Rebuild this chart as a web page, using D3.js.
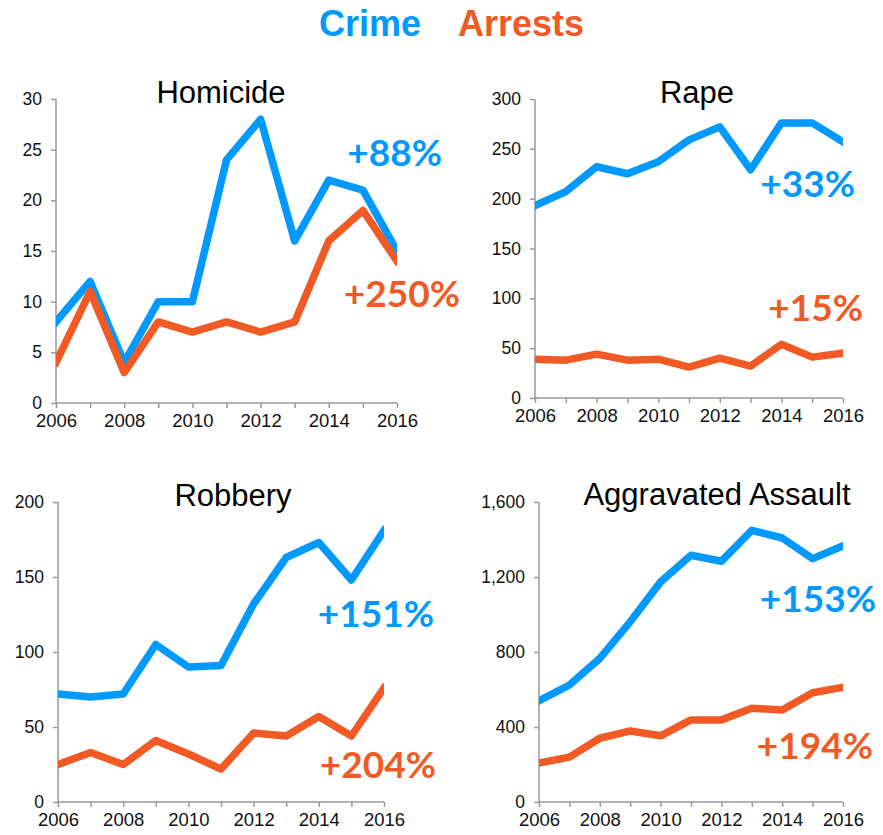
<!DOCTYPE html>
<html>
<head>
<meta charset="utf-8">
<script src="https://cdn.jsdelivr.net/npm/d3@7"></script>
<style>
  html, body { margin: 0; padding: 0; background: #fff; }
  svg { display: block; }
</style>
</head>
<body>
<svg id="chart" width="883" height="835"></svg>
<script>
// ---------- DATA ----------
const years = [2006, 2007, 2008, 2009, 2010, 2011, 2012, 2013, 2014, 2015, 2016];
const xTickLabels = [2006, 2008, 2010, 2012, 2014, 2016];

const homicideCrime   = [8, 12, 4, 10, 10, 24, 28, 16, 22, 21, 15];
const homicideArrests = [4, 11, 3, 8, 7, 8, 7, 8, 16, 19, 14];

const rapeCrime   = [193, 207, 232, 225, 237, 259, 272, 229, 276, 276, 257];
const rapeArrests = [39, 38, 44, 38, 39, 31, 40, 32, 54, 41, 45];

const robberyCrime   = [72, 70, 72, 105, 90, 91, 132, 163, 173, 148, 181];
const robberyArrests = [25, 33, 25, 41, 32, 22, 46, 44, 57, 44, 76];

const assaultCrime   = [540, 624, 766, 961, 1174, 1316, 1284, 1449, 1408, 1298, 1366];
const assaultArrests = [208, 239, 340, 379, 353, 438, 438, 500, 491, 583, 612];

const panelTitles = ["Homicide", "Rape", "Robbery", "Aggravated Assault"];
const yMax   = [30, 300, 200, 1600];
const yStep  = [5, 50, 50, 400];
const legendLabels = ["Crime", "Arrests"];

// ---------- STYLE / LAYOUT ----------
const BLUE = "#0099ff";
const ORANGE = "#f15a24";
const AXIS = "#9a9a9a";
const SANS = '"Liberation Sans", Arial, sans-serif';
const PCT_FONT = 'Lato, "Open Sans", sans-serif';

const layout = [
  { x0: 56,  x1: 397, yTop: 99,  yBot: 403, titleX: 221, titleY: 103,
    crimeLbl: { x: 442, y: 166 }, arrLbl: { x: 460, y: 307 } },
  { x0: 535, x1: 843, yTop: 99,  yBot: 398, titleX: 697, titleY: 103,
    crimeLbl: { x: 855, y: 197 }, arrLbl: { x: 863, y: 321 } },
  { x0: 58,  x1: 384, yTop: 502, yBot: 802, titleX: 233, titleY: 506,
    crimeLbl: { x: 434, y: 627 }, arrLbl: { x: 436, y: 778 } },
  { x0: 539, x1: 843, yTop: 502, yBot: 802, titleX: 717, titleY: 505,
    crimeLbl: { x: 876, y: 612 }, arrLbl: { x: 873, y: 759 } }
];

const seriesByPanel = [
  [homicideCrime, homicideArrests],
  [rapeCrime, rapeArrests],
  [robberyCrime, robberyArrests],
  [assaultCrime, assaultArrests]
];

const svg = d3.select("#chart");

// Legend / header
const header = svg.append("text")
  .attr("y", 36)
  .style("font-family", SANS)
  .style("font-size", "36px")
  .style("font-weight", "bold");
header.append("tspan").attr("x", 319).attr("fill", BLUE).text(legendLabels[0]);
header.append("tspan").attr("x", 458).attr("fill", ORANGE).text(legendLabels[1]);

const pct = (arr) => {
  const v = Math.round((arr[arr.length - 1] - arr[0]) / arr[0] * 100);
  return (v >= 0 ? "+" : "") + v + "%";
};

layout.forEach((L, i) => {
  const g = svg.append("g");
  const x = d3.scaleLinear().domain([years[0], years[years.length - 1]]).range([L.x0, L.x1]);
  const y = d3.scaleLinear().domain([0, yMax[i]]).range([L.yBot, L.yTop]);

  const clipId = "clip" + i;
  svg.append("clipPath").attr("id", clipId)
    .append("rect")
    .attr("x", L.x0).attr("y", 0)
    .attr("width", L.x1 - L.x0).attr("height", 835);

  // Y axis
  const yTicks = d3.range(0, yMax[i] + 1e-9, yStep[i]);
  const yAxis = d3.axisLeft(y)
    .tickValues(yTicks)
    .tickSize(5)
    .tickPadding(9)
    .tickFormat(d3.format(","));
  const ya = g.append("g").attr("transform", `translate(${L.x0},0)`).call(yAxis);
  ya.attr("font-family", null).attr("font-size", null);
  ya.select(".domain").attr("stroke", AXIS).attr("stroke-width", 1.5)
    .attr("d", `M0,${L.yTop}V${L.yBot}`);
  ya.selectAll(".tick line").attr("stroke", AXIS).attr("stroke-width", 1.5);
  ya.selectAll(".tick text").attr("fill", "#111")
    .style("font-family", SANS).style("font-size", "17.5px");

  // X axis
  const xAxis = d3.axisBottom(x)
    .tickValues(years)
    .tickSize(5)
    .tickPadding(6)
    .tickFormat(d => xTickLabels.includes(d) ? String(d) : "");
  const xa = g.append("g").attr("transform", `translate(0,${L.yBot})`).call(xAxis);
  xa.attr("font-family", null).attr("font-size", null);
  xa.select(".domain").attr("stroke", AXIS).attr("stroke-width", 1.5)
    .attr("d", `M${L.x0},0H${L.x1}`);
  xa.selectAll(".tick line").attr("stroke", AXIS).attr("stroke-width", 1.5);
  xa.selectAll(".tick text").attr("fill", "#111")
    .style("font-family", SANS).style("font-size", "18.5px");

  // Lines
  const line = d3.line().x((d, j) => x(years[j])).y(d => y(d));
  const [crime, arrests] = seriesByPanel[i];
  [[crime, BLUE], [arrests, ORANGE]].forEach(([data, col]) => {
    g.append("path")
      .datum(data)
      .attr("clip-path", `url(#${clipId})`)
      .attr("fill", "none")
      .attr("stroke", col)
      .attr("stroke-width", 7.5)
      .attr("stroke-linejoin", "round")
      .attr("stroke-linecap", "square")
      .attr("d", line);
  });

  // Title
  g.append("text")
    .attr("x", L.titleX).attr("y", L.titleY)
    .attr("text-anchor", "middle")
    .attr("fill", "#000")
    .style("font-family", SANS)
    .style("font-size", "31px")
    .text(panelTitles[i]);

  // Percent labels
  [[crime, BLUE, L.crimeLbl], [arrests, ORANGE, L.arrLbl]].forEach(([data, col, pos]) => {
    g.append("text")
      .attr("x", pos.x).attr("y", pos.y)
      .attr("text-anchor", "end")
      .attr("fill", col)
      .style("font-family", PCT_FONT)
      .style("font-weight", "bold")
      .style("font-size", "37px")
      .text(pct(data));
  });
});
</script>
</body>
</html>
